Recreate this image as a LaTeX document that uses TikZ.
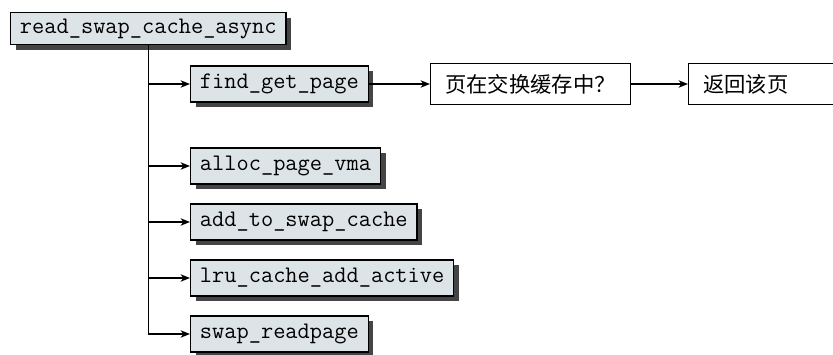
\documentclass[tikz,border=0pt]{standalone}
\usepackage{fontspec}
\newfontfamily\cjk{Noto Sans CJK SC}
\usetikzlibrary{
  positioning,
  arrows.meta,
  shadows
}
\definecolor{fnfill}{HTML}{DDE4E8}
\definecolor{shade}{HTML}{454545}

\begin{document}
\begin{tikzpicture}[
  x=0.75pt, y=-0.75pt,
  fn/.style={draw, line width=0.9pt, fill=fnfill, inner xsep=7pt,
             minimum height=27pt, anchor=west,
             font=\fontsize{17.8}{20}\selectfont\ttfamily,
             drop shadow={shadow xshift=4pt, shadow yshift=-4pt,
                          fill=shade, opacity=1}},
  step box/.style={draw, line width=0.9pt, fill=white, minimum height=31pt,
                   anchor=west, font=\cjk\fontsize{16}{18}\selectfont},
  arr/.style={-{Stealth[length=7pt, width=5.5pt, inset=2pt]}, line width=1.1pt}
]
  \useasboundingbox (0,0) rectangle (833,354);

  % caller
  \node[fn, minimum height=24pt, anchor=north west] (rsca) at (10,12) {read\_swap\_cache\_async};

  % callees
  \node[fn] (fgp) at (190,84) {find\_get\_page};
  \node[fn] (apv) at (190,166) {alloc\_page\_vma};
  \node[fn] (atsc) at (190,222) {add\_to\_swap\_cache};
  \node[fn] (lcaa) at (190,278) {lru\_cache\_add\_active};
  \node[fn] (srp) at (190,334) {swap\_readpage};

  % lookup in the swap cache
  \node[step box, minimum width=150pt] (incache) at (430,84) {页在交换缓存中？};
  \node[step box, text width=185pt, inner xsep=11pt, align=left] (retpage) at (688,84) {返回该页};

  \draw[arr] (rsca.south) |- (srp);
  \draw[arr] (rsca.south |- fgp.west) -- (fgp);
  \draw[arr] (rsca.south |- apv.west) -- (apv);
  \draw[arr] (rsca.south |- atsc.west) -- (atsc);
  \draw[arr] (rsca.south |- lcaa.west) -- (lcaa);
  \draw[arr] (fgp) -- (incache);
  \draw[arr] (incache) -- (retpage);
\end{tikzpicture}
\end{document}
